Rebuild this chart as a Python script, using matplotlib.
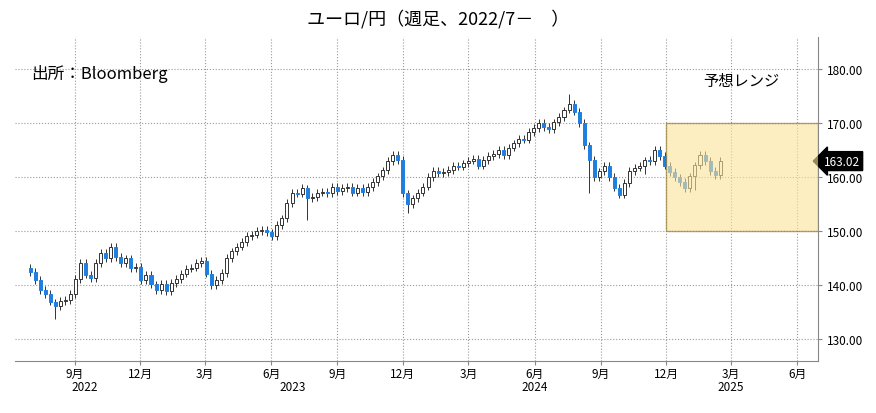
import numpy as np
import pandas as pd
import matplotlib
matplotlib.use("Agg")
import matplotlib.pyplot as plt
import matplotlib.dates as mdates
from matplotlib.patches import Rectangle

plt.rcParams['font.family'] = ['Noto Sans CJK JP', 'DejaVu Sans']

# weekly closes, EUR/JPY
closes = [142.5, 141.0, 139.2, 138.4, 137.0, 136.2, 137.1, 137.3,
          138.4, 141.2, 144.1, 142.0,
          141.3, 144.2, 146.0, 145.1,
          147.2, 145.3, 144.2, 145.0,
          143.2, 143.4, 141.0, 142.0, 140.2,
          139.1, 140.3, 139.0, 140.4, 141.2,
          142.2, 143.1, 143.3, 144.2,
          144.5, 142.2, 140.1, 141.0, 142.3,
          145.1, 146.3, 147.2, 148.0, 149.2,
          149.4, 150.1, 150.3, 149.8, 149.2,
          151.2, 152.4, 155.3, 157.2,
          157.0, 158.1, 156.2, 156.4,
          157.2, 157.3, 157.1, 158.2,
          157.4, 158.0, 158.3, 157.2,
          158.1, 157.3, 158.2, 159.1, 160.2,
          161.3, 163.0, 164.1, 163.2,
          157.1, 155.0, 156.1, 157.2,
          158.3, 160.1, 161.2, 160.8, 161.0,
          161.4, 162.2, 162.0, 162.6, 163.1,
          163.4, 162.2, 163.2, 164.0, 164.3,
          165.1, 164.2, 165.5, 166.3, 167.2,
          167.0, 168.4, 169.2, 170.1, 169.3,
          169.0, 170.2, 171.2, 172.4, 173.6,
          172.2, 170.1, 166.0, 163.2,
          160.0, 161.1, 162.2, 160.1,
          158.1, 156.8, 159.0, 161.2, 161.8,
          162.1, 163.3, 163.0, 165.1,
          164.0, 162.2, 161.0, 160.0, 159.2,
          158.0, 160.2, 162.3, 164.1,
          163.0, 161.2, 160.4, 163.0]
first_open = 143.2
# occasional long wicks: index -> (extra high, extra low)
long_wicks = {5: (0.5, 2.5), 55: (0.5, 4.0), 75: (0.6, 1.5), 107: (1.8, 0.5),
              111: (0.5, 6.0), 122: (0.5, 1.5), 132: (0.5, 2.5)}
last_price = 163.02

dates = pd.date_range('2022-07-01', periods=len(closes), freq='W-FRI')
opens = [first_open] + closes[:-1]

fig = plt.figure(figsize=(8.76, 4.14), dpi=100)
ax = fig.add_axes([15/876, 52/414, 803/876, 324/414])

w = 4.2
for i, (d, o, c) in enumerate(zip(dates, opens, closes)):
    xh, xl = long_wicks.get(i, (0.7, 0.7))
    hi, lo = max(o, c) + xh, min(o, c) - xl
    x = mdates.date2num(d)
    ax.vlines(x, lo, hi, color='#333333', lw=0.7, zorder=3)
    if c >= o:
        ax.add_patch(Rectangle((x - w/2, o), w, max(c - o, 0.15), facecolor='white',
                               edgecolor='#333333', lw=0.7, zorder=4))
    else:
        ax.add_patch(Rectangle((x - w/2, c), w, o - c, facecolor='#1f7fe0',
                               edgecolor='#1f7fe0', lw=0.7, zorder=4))

x0 = mdates.date2num(pd.Timestamp('2024-12-01'))
x1 = mdates.date2num(pd.Timestamp('2025-06-30'))
ax.add_patch(Rectangle((x0, 150), x1 - x0, 20, facecolor='#fde39a', alpha=0.6,
                       edgecolor='#8b6d1e', lw=1.0, zorder=5))
ax.text(mdates.date2num(pd.Timestamp('2025-03-15')), 178, '予想レンジ',
        ha='center', va='center', fontsize=11)
ax.text(0.02, 0.89, '出所：Bloomberg', transform=ax.transAxes, fontsize=12, va='center')

ax.set_xlim(mdates.date2num(pd.Timestamp('2022-06-10')), x1)
ax.set_ylim(126, 186)
ax.yaxis.tick_right()
ax.set_yticks(np.arange(130, 181, 10))
ax.set_yticklabels([f'{v:.2f}' for v in range(130, 181, 10)], fontsize=8.5)
ticks = pd.date_range('2022-09-01', '2025-06-01', freq='3MS')
ax.set_xticks(mdates.date2num(ticks))
ax.set_xticklabels([f'{t.month}月' for t in ticks], fontsize=8.5)
ax.tick_params(axis='both', length=3, color='#888888')
ax.tick_params(axis='x', pad=1)
ax.grid(True, ls=':', color='#999999', lw=0.8)
for s in ['top', 'left']:
    ax.spines[s].set_visible(False)
ax.spines['bottom'].set_color('#888888')
ax.spines['right'].set_color('#888888')

for yr, d in [('2022', '2022-09-15'), ('2023', '2023-07-01'), ('2024', '2024-06-01'), ('2025', '2025-03-01')]:
    ax.text(mdates.date2num(pd.Timestamp(d)), -0.06, yr, transform=ax.get_xaxis_transform(),
            ha='center', va='top', fontsize=8.5)

ax.annotate(f'{last_price:.2f}', xy=(1.0, last_price), xycoords=('axes fraction', 'data'),
            xytext=(4, 0), textcoords='offset points', va='center', ha='left',
            fontsize=8.5, color='white',
            bbox=dict(boxstyle='larrow,pad=0.25', fc='black', ec='black'))

fig.text(0.5, 0.955, 'ユーロ/円（週足、2022/7－　）', ha='center', va='center', fontsize=13)
fig.savefig('out.png', dpi=100)
